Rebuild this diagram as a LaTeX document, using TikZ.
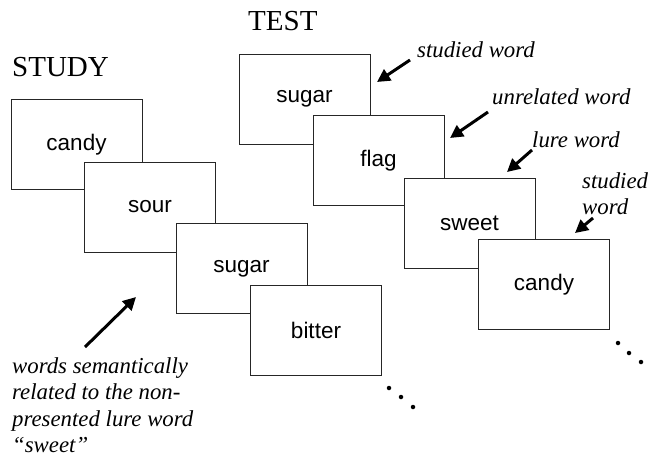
\documentclass[tikz,border=0pt]{standalone}
\usepackage{fontspec}
\setmainfont{Liberation Serif}
\setsansfont{Liberation Sans}
\usepackage{tikz}
\usetikzlibrary{arrows.meta}
\tikzset{
  % node options
  word/.style={rectangle,draw=black!85,line width=1pt,fill=white,
    minimum width=131pt,minimum height=90pt,inner sep=0pt,
    font=\sffamily\fontsize{22.5}{27}\selectfont},
  phase/.style={anchor=base west,inner sep=0pt,font=\fontsize{29}{34}\selectfont},
  note/.style={anchor=base west,inner sep=0pt,font=\itshape\fontsize{22.8}{26.5}\selectfont},
  notelines/.style={note,anchor=north west,align=left},
  dot/.style={circle,fill,inner sep=0pt,minimum size=4.5pt},
  % path options
  cue/.style={-{Triangle[length=13pt,width=13pt]},line width=3pt},
}
\begin{document}
\begin{tikzpicture}[x=1pt,y=-1pt]
  \useasboundingbox (0,0) rectangle (650,456);
  % study list
  \node[phase] (study) at (12,76) {STUDY};
  \node[word] (s1) at (76.5,144.5) {candy};
  \node[word] (s2) at (150,207) {sour};
  \node[word] (s3) at (241.5,268.5) {sugar};
  \node[word] (s4) at (316,330.5) {bitter};
  \foreach \x/\y [count=\i] in {389/388,401/397,413/407}
    \node[dot] (sd\i) at (\x,\y) {};
  \node[notelines] (related) at (12,357) {words semantically\\related to the non-\\presented lure word\\``sweet''};
  \coordinate (relTail) at (85,347);
  \coordinate (relTip) at (136,297);
  \draw[cue] (relTail) -- (relTip);
  % test list
  \node[phase] (test) at (248,30) {TEST};
  \node[word] (t1) at (304.5,99) {sugar};
  \node[word] (t2) at (378.5,160.5) {flag};
  \node[word] (t3) at (469.5,223) {sweet};
  \node[word] (t4) at (544,284.5) {candy};
  \foreach \x/\y [count=\i] in {618/343,629/353,641/362}
    \node[dot] (td\i) at (\x,\y) {};
  \node[note] (studied) at (417,57) {studied word};
  \node[note] (unrelated) at (492,104) {unrelated word};
  \node[note] (lure) at (532,147) {lure word};
  \node[notelines] (studied2) at (582,172) {studied\\word};
  \coordinate (c1) at (410,60);   \coordinate (p1) at (377,82);
  \coordinate (c2) at (488,112);  \coordinate (p2) at (450,138);
  \coordinate (c3) at (532,150);  \coordinate (p3) at (507,172);
  \coordinate (c4) at (593,218);  \coordinate (p4) at (575,233);
  \foreach \i in {1,...,4}
    \draw[cue] (c\i) -- (p\i);
\end{tikzpicture}
\end{document}
